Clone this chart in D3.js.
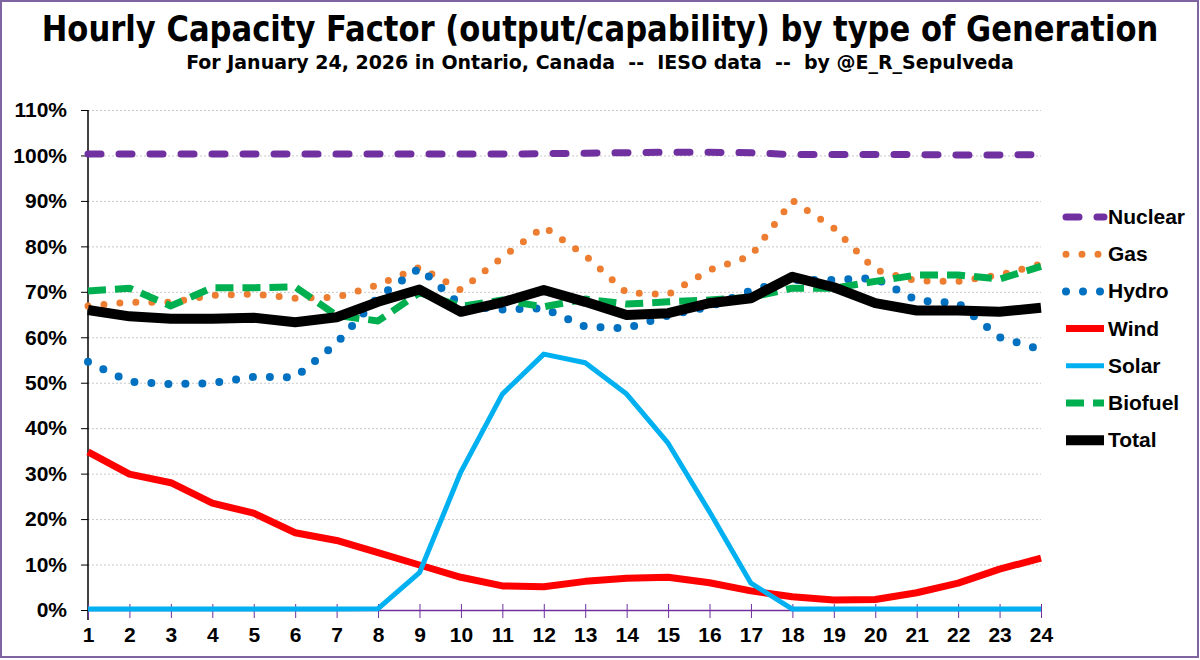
<!DOCTYPE html>
<html>
<head>
<meta charset="utf-8">
<script src="https://cdn.jsdelivr.net/npm/d3@7"></script>
<style>
  body { margin:0; background:#fff; }
  svg { display:block; }
</style>
</head>
<body>
<svg id="svg" width="1200" height="660"></svg>
<script>
var hours = d3.range(1, 25);
var yTicks = [0,0.1,0.2,0.3,0.4,0.5,0.6,0.7,0.8,0.9,1.0,1.1];

var nuclear = [100.3,100.3,100.3,100.3,100.3,100.3,100.3,100.3,100.3,100.3,100.3,100.4,100.5,100.6,100.7,100.7,100.6,100.2,100.2,100.2,100.2,100.1,100.1,100.2];
var gas     = [66.9,67.7,67.7,69.2,69.5,68.6,68.8,71.5,75.4,70.4,77.6,84.3,78.0,69.8,69.4,74.8,77.9,90.1,84.0,74.8,72.4,72.3,73.7,76.1];
var hydro   = [54.6,50.2,49.7,49.9,51.3,51.2,58.7,68.8,75.2,67.0,66.1,66.4,62.3,62.0,64.8,66.7,70.3,72.6,72.6,73.0,68.1,67.5,60.0,57.3];
var wind    = [34.8,29.9,28.0,23.5,21.3,17.0,15.3,12.6,9.9,7.2,5.3,5.1,6.3,7.0,7.2,6.0,4.2,2.9,2.2,2.3,3.8,5.9,9.0,11.4];
var solar   = [0.2,0.2,0.2,0.2,0.2,0.2,0.2,0.3,8.2,30.4,47.5,56.3,54.4,47.5,36.7,21.6,5.9,0.2,0.2,0.2,0.2,0.2,0.2,0.2];
var biofuel = [70.2,70.8,66.9,70.9,70.9,71.1,64.8,63.6,69.8,66.8,68.2,66.7,68.4,67.3,67.8,68.2,68.8,70.8,70.8,72.3,73.7,73.7,72.8,75.6];
var total   = [66.0,64.6,64.1,64.1,64.3,63.3,64.4,67.8,70.5,65.6,67.7,70.4,67.8,64.9,65.3,67.5,68.6,73.3,71.0,67.5,65.9,65.9,65.6,66.5];

var svg = d3.select("#svg");
var plot = {left:88, right:1041, top:110, bottom:610};

var xScale = d3.scaleLinear().domain([1,24]).range([plot.left, plot.right]);
var yScale = d3.scaleLinear().domain([0,1.1]).range([plot.bottom, plot.top]);

// frame
svg.append("rect").attr("x",1).attr("y",1).attr("width",1197).attr("height",656)
   .attr("fill","#fff").attr("stroke","#8064A2").attr("stroke-width",2);

// titles, fitted horizontally to the reference width
function fittedTitle(txt, y, size, width) {
  var t = svg.append("text").attr("x",0).attr("y",0).attr("text-anchor","middle")
     .attr("font-family","'Liberation Sans Narrow','DejaVu Sans Condensed',sans-serif")
     .attr("font-weight","bold").attr("font-size",size)
     .style("white-space","pre")
     .text(txt);
  var k = width / t.node().getComputedTextLength();
  t.attr("transform","translate(600,"+y+") scale("+k+",1)");
}
fittedTitle("Hourly Capacity Factor (output/capability) by type of Generation", 41, 36, 1117);
fittedTitle("For January 24, 2026 in Ontario, Canada  --  IESO data  --  by @E_R_Sepulveda", 69, 20, 828);

// grid
svg.append("g")
   .attr("transform","translate("+plot.left+",0)")
   .call(d3.axisLeft(yScale).tickValues(yTicks.slice(1)).tickSize(-(plot.right-plot.left)).tickFormat(""))
   .call(function(g){ g.select(".domain").remove(); })
   .selectAll("line").attr("stroke","#c8c8c8").attr("stroke-dasharray","2 2");

// y axis
var yAxis = svg.append("g")
   .attr("transform","translate("+plot.left+",0)")
   .call(d3.axisLeft(yScale).tickValues(yTicks).tickSize(7).tickPadding(14)
         .tickFormat(d3.format(".0%")).tickSizeOuter(0));
yAxis.select(".domain").attr("stroke","#000").attr("stroke-width",1.5)
     .attr("d","M0,"+plot.top+"V"+(plot.bottom+10));
yAxis.selectAll("line").attr("stroke","#000");
yAxis.selectAll("text").attr("font-family","'Liberation Sans',Arial,sans-serif")
     .attr("font-weight","bold").attr("font-size",21).attr("fill","#000");

// x axis
var xAxis = svg.append("g")
   .attr("transform","translate(0,"+plot.bottom+")")
   .call(d3.axisBottom(xScale).tickValues(hours).tickSize(8).tickPadding(9)
         .tickFormat(d3.format("d")).tickSizeOuter(0));
xAxis.select(".domain").attr("stroke","#7030A0").attr("stroke-width",1.5);
xAxis.selectAll("line").attr("stroke","#7030A0").attr("y1",-6);
xAxis.selectAll("text").attr("font-family","'Liberation Sans',Arial,sans-serif")
     .attr("font-weight","bold").attr("font-size",21).attr("fill","#000");

var series = [
  {name:"Nuclear", values:nuclear, color:"#7030A0", width:7, dash:"13 18", cap:"round"},
  {name:"Gas",     values:gas,     color:"#ED7D31", width:7, dash:"0 16",  cap:"round"},
  {name:"Hydro",   values:hydro,   color:"#0070C0", width:8, dash:"0 17", cap:"round"},
  {name:"Wind",    values:wind,    color:"#FF0000", width:7, dash:null,    cap:"butt"},
  {name:"Solar",   values:solar,   color:"#00B0F0", width:5, dash:null,    cap:"butt"},
  {name:"Biofuel", values:biofuel, color:"#00B050", width:7, dash:"18 9",  cap:"butt"},
  {name:"Total",   values:total,   color:"#000000", width:10, dash:null,   cap:"butt"}
];

var line = d3.line()
   .x(function(d,i){ return xScale(hours[i]); })
   .y(function(d){ return yScale(d/100); });

var lineGrp = svg.append("g");
lineGrp.selectAll("path").data(series).enter()
   .append("path")
   .attr("d", function(d){ return line(d.values); })
   .attr("fill","none")
   .attr("stroke", function(d){ return d.color; })
   .attr("stroke-width", function(d){ return d.width; })
   .attr("stroke-dasharray", function(d){ return d.dash; })
   .attr("stroke-linecap", function(d){ return d.cap; })
   .attr("stroke-linejoin","round");

// legend
var legend = svg.append("g");
var rows = legend.selectAll("g").data(series).enter().append("g")
   .attr("transform", function(d,i){ return "translate(1066,"+(217+i*37.2)+")"; });
rows.append("line").attr("x1",0).attr("x2",38).attr("y1",0).attr("y2",0)
   .attr("stroke", function(d){ return d.color; })
   .attr("stroke-width", function(d){ return d.width; })
   .attr("stroke-dasharray", function(d){ return d.dash; })
   .attr("stroke-linecap", function(d){ return d.cap; });
rows.append("text").attr("x",42).attr("y",7)
   .attr("font-family","'Liberation Sans',Arial,sans-serif")
   .attr("font-weight","bold").attr("font-size",21).attr("fill","#000")
   .text(function(d){ return d.name; });
</script>
</body>
</html>
